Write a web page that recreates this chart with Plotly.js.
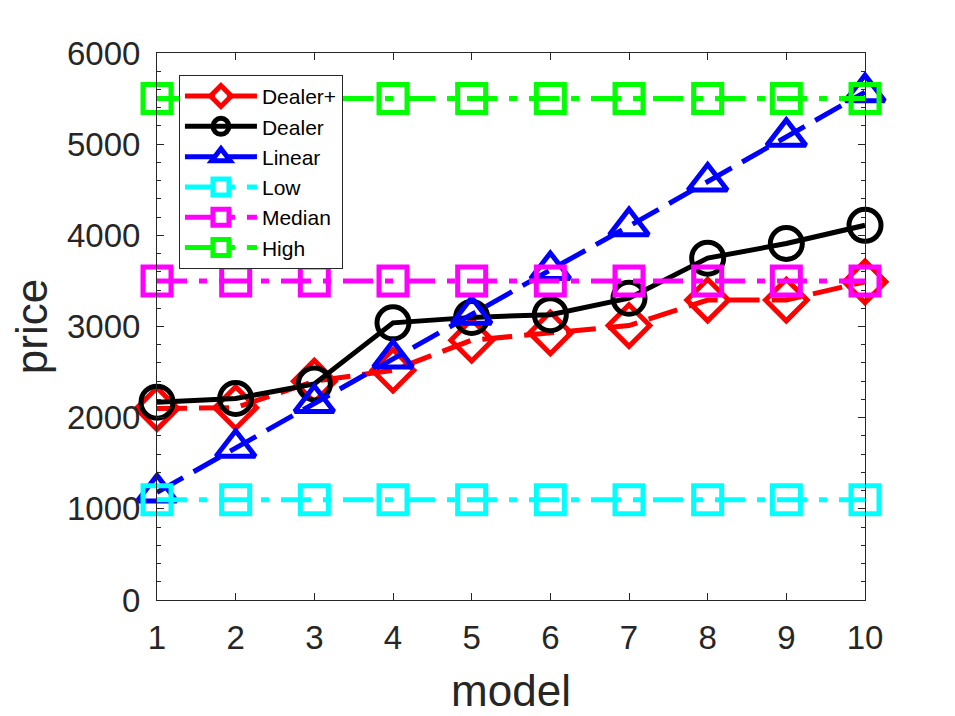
<!DOCTYPE html>
<html>
<head>
<meta charset="utf-8">
<script src="https://cdn.plot.ly/plotly-3.0.1.min.js"></script>
<style>
  html, body { margin: 0; padding: 0; background: #fff; }
  #chart { width: 955px; height: 716px; }
</style>
</head>
<body>
<div id="chart"></div>
<script>
// values
const models = [1, 2, 3, 4, 5, 6, 7, 8, 9, 10];
const dealerPlus = [2100, 2110, 2400, 2520, 2850, 2930, 3010, 3290, 3290, 3490];
const dealer = [2170, 2210, 2370, 3040, 3100, 3130, 3310, 3750, 3910, 4110];
const linear = [1180, 1670, 2160, 2650, 3130, 3620, 4100, 4590, 5080, 5570];
const low = [1100, 1100, 1100, 1100, 1100, 1100, 1100, 1100, 1100, 1100];
const median = [3500, 3500, 3500, 3500, 3500, 3500, 3500, 3500, 3500, 3500];
const high = [5500, 5500, 5500, 5500, 5500, 5500, 5500, 5500, 5500, 5500];

const axisColor = '#262626';
const dashed = '30px,12px';
const dashDot = '30px,12px,8px,12px';

function series(name, y, color, dash, symbol, size) {
    return {
        type: 'scatter', mode: 'lines+markers', name, legendgroup: name,
        x: models, y,
        line: { color, width: 5, dash },
        marker: { symbol, size, color, line: { color, width: 5 } },
        cliponaxis: false,
    };
}

const traces = [
    series('Dealer+', dealerPlus, '#ff0000', dashed, 'diamond-open', 32),
    series('Dealer', dealer, '#000000', 'solid', 'circle-open', 32),
    series('Linear', linear, '#0000ff', dashed, 'triangle-up-open', 34),
    series('Low', low, '#00ffff', dashDot, 'square-open', 28),
    series('Median', median, '#ff00ff', dashDot, 'square-open', 28),
    series('High', high, '#00ff00', dashDot, 'square-open', 28),
];

const tickFont = { family: 'Liberation Sans, Arial, sans-serif', size: 33, color: axisColor };
const titleFont = { family: 'Liberation Sans, Arial, sans-serif', size: 44, color: axisColor };

const layout = {
    width: 955, height: 716,
    paper_bgcolor: '#fff', plot_bgcolor: '#fff',
    margin: { l: 157, r: 90, t: 53, b: 116 },
    showlegend: true,
    legend: {
        x: 0.031, y: 0.96, xanchor: 'left', yanchor: 'top',
        bgcolor: '#fff', bordercolor: axisColor, borderwidth: 1,
        font: { family: 'Liberation Sans, Arial, sans-serif', size: 21, color: '#000' },
        tracegroupgap: 0, itemwidth: 72,
    },
    xaxis: {
        range: [1, 10], tickvals: models, showgrid: false, zeroline: false,
        showline: true, linecolor: axisColor, linewidth: 1, mirror: 'ticks',
        ticks: 'inside', ticklen: 7, tickcolor: axisColor, tickfont: tickFont,
        ticklabelstandoff: 8,
        title: { text: 'model', font: titleFont, standoff: 20 },
    },
    yaxis: {
        range: [0, 6000], dtick: 1000, showgrid: false, zeroline: false,
        showline: true, linecolor: axisColor, linewidth: 1, mirror: 'ticks',
        ticks: 'inside', ticklen: 7, tickcolor: axisColor, tickfont: tickFont,
        ticklabelstandoff: 9,
        minor: { dtick: 200, ticks: 'inside', ticklen: 4, tickcolor: axisColor, showgrid: false },
        title: { text: 'price', font: titleFont, standoff: 5 },
    },
};

Plotly.newPlot('chart', traces, layout, { displayModeBar: false, staticPlot: true });
</script>
</body>
</html>
